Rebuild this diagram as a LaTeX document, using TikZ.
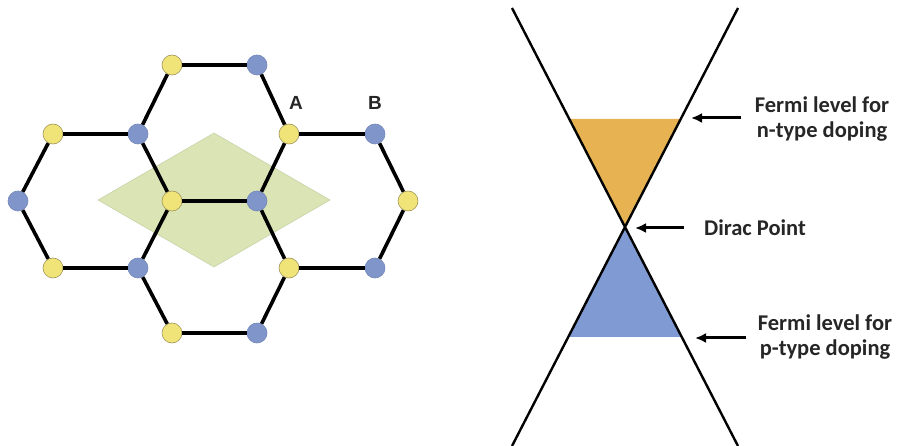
\documentclass[tikz,border=0pt]{standalone}
\usepackage{fontspec}
\setmainfont{Carlito}
\newfontfamily\arialfont{Liberation Sans}
\usetikzlibrary{arrows.meta}
\definecolor{atomY}{RGB}{240,228,120}
\definecolor{atomYline}{RGB}{160,150,90}
\definecolor{atomB}{RGB}{128,150,202}
\definecolor{atomBline}{RGB}{115,135,185}
\definecolor{cellgreen}{RGB}{218,228,180}
\definecolor{cellline}{RGB}{196,208,165}
\definecolor{fillorange}{RGB}{230,178,82}
\definecolor{fillblue}{RGB}{128,155,212}
\tikzset{
  ya/.style={circle,fill=atomY,draw=atomYline,line width=0.6pt,minimum size=20pt,inner sep=0pt},
  ba/.style={circle,fill=atomB,draw=atomBline,line width=0.6pt,minimum size=20pt,inner sep=0pt},
  bond/.style={line width=3.6pt,black},
  cone/.style={line width=2.4pt,black},
  arr/.style={line width=3pt,-{Latex[length=11pt,width=10pt]}},
  lbl/.style={font=\bfseries\fontsize{22.5}{25}\selectfont,text=black!85,align=center,inner sep=0pt},
  ab/.style={font=\arialfont\bfseries\fontsize{19}{22}\selectfont,text=black!85,inner sep=0pt}
}
\begin{document}
\begin{tikzpicture}[x=1pt,y=-1pt]
\useasboundingbox (0,0) rectangle (897,446);
% unit cell
\coordinate (cl) at (98,200);
\coordinate (ct) at (214,133);
\coordinate (cr) at (330,200);
\coordinate (cb) at (214,267);
\fill[cellgreen,draw=cellline,line width=0.5pt] (cl) -- (ct) -- (cr) -- (cb) -- cycle;
% atoms
\node[ya] (y1) at (172,65) {};
\node[ba] (b1) at (257,65) {};
\node[ya] (y2) at (53,134) {};
\node[ba] (b2) at (138,134) {};
\node[ya] (A) at (289,134) {};
\node[ba] (B) at (375,134) {};
\node[ba] (b3) at (18,201) {};
\node[ya] (y3) at (172,201) {};
\node[ba] (b4) at (257,201) {};
\node[ya] (y4) at (408,201) {};
\node[ya] (y5) at (53,268) {};
\node[ba] (b5) at (138,268) {};
\node[ya] (y6) at (289,268) {};
\node[ba] (b6) at (375,268) {};
\node[ya] (y7) at (172,333) {};
\node[ba] (b7) at (257,333) {};
% bonds
\draw[bond] (y1) -- (b1);
\draw[bond] (y1) -- (b2);
\draw[bond] (b1) -- (A);
\draw[bond] (y2) -- (b2);
\draw[bond] (A) -- (B);
\draw[bond] (y2) -- (b3);
\draw[bond] (b2) -- (y3);
\draw[bond] (A) -- (b4);
\draw[bond] (B) -- (y4);
\draw[bond] (y3) -- (b4);
\draw[bond] (b3) -- (y5);
\draw[bond] (y3) -- (b5);
\draw[bond] (b4) -- (y6);
\draw[bond] (y4) -- (b6);
\draw[bond] (y5) -- (b5);
\draw[bond] (y6) -- (b6);
\draw[bond] (b5) -- (y7);
\draw[bond] (y6) -- (b7);
\draw[bond] (y7) -- (b7);
\node[ab] (lA) at (296,103) {A};
\node[ab] (lB) at (375,103) {B};
% Dirac cone
\coordinate (tl) at (512,8);
\coordinate (tr) at (738,8);
\coordinate (bl) at (512,446);
\coordinate (br) at (738,446);
\coordinate (dp) at (625,227);
\coordinate (nl) at (569,119);
\coordinate (nr) at (681,119);
\coordinate (pl) at (569,337);
\coordinate (pr) at (681,337);
\fill[fillorange] (nl) -- (nr) -- (dp) -- cycle;
\fill[fillblue] (pl) -- (pr) -- (dp) -- cycle;
\draw[cone] (tl) -- (br);
\draw[cone] (tr) -- (bl);
% labels and arrows
\node[lbl] (nlab) at (822,119) {Fermi level for\\n-type doping};
\node[lbl] (dlab) at (755,228) {Dirac Point};
\node[lbl] (plab) at (825,337) {Fermi level for\\p-type doping};
\coordinate (ntail) at (741,118);
\coordinate (ntip) at (691,118);
\coordinate (dtail) at (684,228);
\coordinate (dtip) at (635,228);
\coordinate (ptail) at (746,338);
\coordinate (ptip) at (695,338);
\draw[arr] (ntail) -- (ntip);
\draw[arr] (dtail) -- (dtip);
\draw[arr] (ptail) -- (ptip);
\end{tikzpicture}
\end{document}
